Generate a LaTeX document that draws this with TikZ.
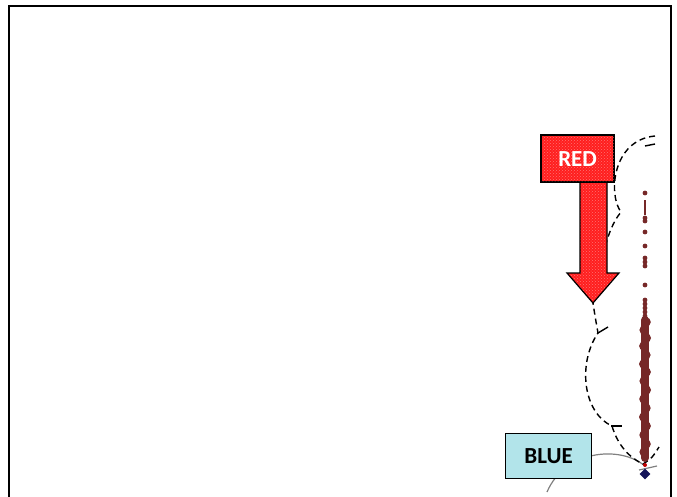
\documentclass[tikz,border=0pt]{standalone}
\usepackage{fontspec}
\setmainfont{Carlito}
\usetikzlibrary{patterns,shapes.geometric}
\definecolor{boxred}{RGB}{255,30,30}
\definecolor{aqua}{RGB}{178,228,234}
\definecolor{dotred}{RGB}{118,40,40}
\definecolor{navy}{RGB}{20,20,90}
\tikzset{
  labelbox/.style={draw=black, line width=1.2pt, inner sep=0pt, font=\bfseries\fontsize{23}{23}\selectfont},
  chain/.style={dash pattern=on 6pt off 4pt, line width=1.4pt},
  tick/.style={line width=1.4pt},
  dot/.style={fill=dotred, draw=none},
}
\begin{document}
\begin{tikzpicture}[x=1pt,y=-1pt]
\useasboundingbox (0,0) rectangle (677,496);
% frame, open at the bottom
\draw[gray!60, line width=2.6pt] (9,497) -- (9,6) -- (671,6) -- (671,497);
\draw[black, line width=1.2pt] (9,497) -- (9,6) -- (671,6) -- (671,497);

% gray arc passing behind the blue box
\coordinate (g0) at (547,492);
\coordinate (g1) at (645,466);
\draw[gray, line width=1.2pt] (g0) .. controls (565,450) and (620,445) .. (g1);
\draw[gray, line width=1.2pt] (639,470) -- (657,466);

% dashed chain of arcs
\coordinate (c0) at (655,136);
\coordinate (c1) at (621,212);
\coordinate (c2) at (593,303);
\coordinate (c3) at (598,333);
\coordinate (c4) at (612,426);
\coordinate (c5) at (643,464);
\coordinate (c6) at (659,447);
\draw[chain] (c0) .. controls (612,140) and (608,195) .. (c1)
  .. controls (602,235) and (600,280) .. (c2)
  .. controls (595,316) .. (c3)
  .. controls (578,362) and (582,412) .. (c4)
  .. controls (618,446) and (630,458) .. (c5)
  .. controls (652,458) .. (c6);
\draw[tick] (645,146) -- (655,144);
\draw[tick] (598,333) -- (608,327);
\draw[tick] (611,426) -- (622,426);

% scattered markers along the column
\foreach \y in {193,218,221,232,246,258,262,266,285,300,304,308,312,316}
  \fill[dot] (645,\y) circle (2.4pt);
\draw[dotred, line width=2pt] (645,200) -- (645,215);
\draw[dotred, line width=8pt, line cap=round] (645,320) -- (645,458);
\foreach \y/\d in {322/1.2,330/-1,338/1.4,346/-1.3,355/1,364/-1.4,372/1.3,381/-1,390/1.4,399/-1.2,408/1.1,417/-1.4,426/1.3,435/-1.1,444/1.2,452/-1}
  \fill[dot] (645+\d,\y) circle (4.6pt);
\fill[red!75!black] (645,465) circle (2pt);
\node[diamond, fill=navy, minimum size=11pt, inner sep=0pt] (mk) at (645,474) {};

% red label with downward arrow
\fill[boxred]
  (580,180) -- (607,180) -- (607,273) -- (619,273) -- (593,303) -- (567,273) -- (580,273) -- cycle;
\fill[pattern=crosshatch dots, pattern color=red!55!white]
  (580,180) -- (607,180) -- (607,273) -- (619,273) -- (593,303) -- (567,273) -- (580,273) -- cycle;
\draw[black, line width=1.2pt]
  (580,180) -- (607,180) -- (607,273) -- (619,273) -- (593,303) -- (567,273) -- (580,273) -- cycle;
\node[labelbox, fill=boxred, minimum width=72pt, minimum height=46pt, anchor=north west,
  postaction={pattern=crosshatch dots, pattern color=red!55!white}] (red) at (541,135) {};
\draw[black, line width=1.2pt] (red.north west) rectangle (red.south east);
\node[text=white, font=\bfseries\fontsize{23}{23}\selectfont] at (red.center) {RED};

% blue label
\node[labelbox, fill=aqua, minimum width=86pt, minimum height=45pt, anchor=north west] (blue) at (505,433) {BLUE};
\end{tikzpicture}
\end{document}
